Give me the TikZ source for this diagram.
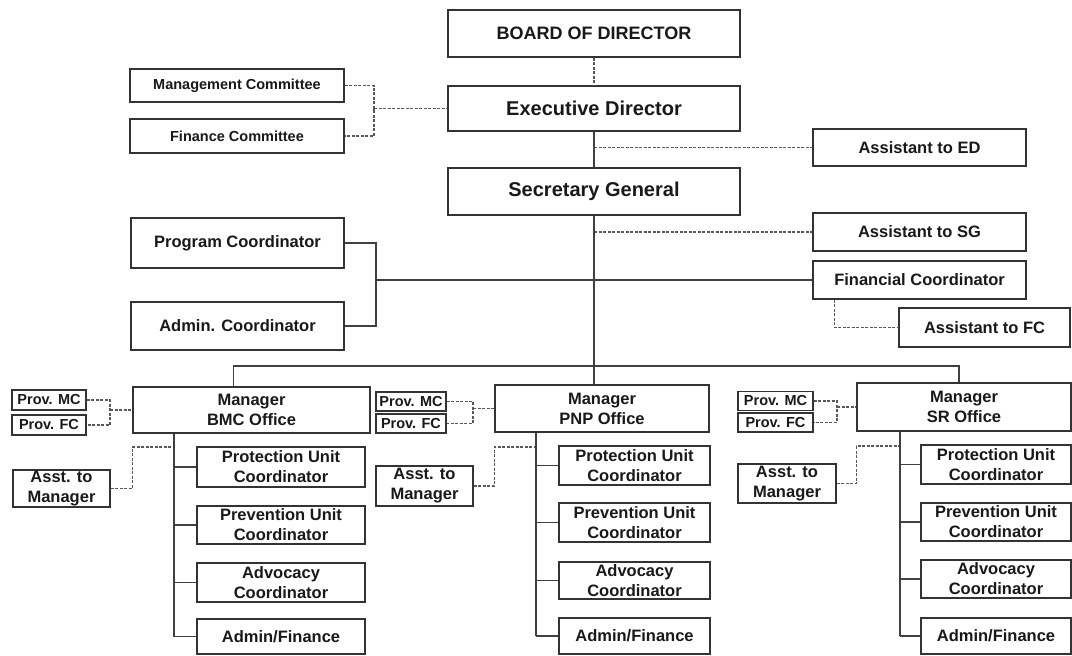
\documentclass[tikz,border=0pt]{standalone}
\usepackage{fontspec}
\setmainfont{Liberation Sans}

\tikzset{
  unit/.style={draw=black!80, line width=1.5pt, inner sep=0pt, align=center,
    text=black!90, font=\bfseries\fontsize{16.5}{20}\selectfont},
  wh/.style 2 args={minimum width=#1pt, minimum height=#2pt},
  small/.style={font=\bfseries\fontsize{14.5}{16}\selectfont},
  link/.style={draw=black!75, line width=1.4pt},
  staff/.style={draw=black!65, line width=1.1pt, dash pattern=on 3pt off 1.5pt}
}

\begin{document}
\begin{tikzpicture}[x=1pt, y=-1pt]
        \path[fill=white, use as bounding box] (0,0) rectangle (1072,656);

        % head office
        \node[unit, wh={292}{47}, font=\bfseries\fontsize{18}{22}\selectfont] (bod) at (594,33.5) {BOARD OF DIRECTOR};
        \node[unit, wh={292}{45}, font=\bfseries\fontsize{20}{24}\selectfont] (ed) at (594,108.5) {Executive Director};
        \node[unit, wh={292}{47}, font=\bfseries\fontsize{20}{24}\selectfont] (sg) at (594,191.5) {Secretary General};
        \node[unit, small, wh={214}{33}] (mc) at (237,85.5) {Management Committee};
        \node[unit, small, wh={214}{34}] (fc) at (237,136) {Finance Committee};
        \node[unit, wh={213}{37}] (aed) at (919.5,147.5) {Assistant to ED};
        \node[unit, wh={213}{38}] (asg) at (919.5,232) {Assistant to SG};
        \node[unit, wh={213}{38}] (fco) at (919.5,280) {Financial Coordinator};
        \node[unit, wh={171}{39}] (afc) at (984.5,327.5) {Assistant to FC};
        \node[unit, wh={213}{50}] (pc) at (237.5,243) {Program Coordinator};
        \node[unit, wh={213}{48}] (ac) at (237.5,326) {Admin. Coordinator};

        % BMC office
        \node[unit, wh={237}{46}] (bmc) at (251.5,410) {Manager\\BMC Office};
        \node[unit, small, wh={74}{20}] (pmc1) at (49,400) {Prov. MC};
        \node[unit, small, wh={74}{20}] (pfc1) at (49,425) {Prov. FC};
        \node[unit, wh={97}{37}] (am1) at (61.5,488.5) {Asst. to\\Manager};
        \node[unit, wh={168}{40}] (puc1) at (281,467) {Protection Unit\\Coordinator};
        \node[unit, wh={168}{38}] (pre1) at (281,525) {Prevention Unit\\Coordinator};
        \node[unit, wh={168}{39}] (adv1) at (281,582.5) {Advocacy\\Coordinator};
        \node[unit, wh={168}{35}] (adm1) at (281,636.5) {Admin/Finance};

        % PNP office
        \node[unit, wh={214}{47}] (pnp) at (602,408.5) {Manager\\PNP Office};
        \node[unit, small, wh={70}{19}] (pmc2) at (411,401.5) {Prov. MC};
        \node[unit, small, wh={70}{19}] (pfc2) at (411,423.5) {Prov. FC};
        \node[unit, wh={97}{40}] (am2) at (424.5,486) {Asst. to\\Manager};
        \node[unit, wh={151}{39}] (puc2) at (634.5,465.5) {Protection Unit\\Coordinator};
        \node[unit, wh={151}{39}] (pre2) at (634.5,522.5) {Prevention Unit\\Coordinator};
        \node[unit, wh={151}{37}] (adv2) at (634.5,580.5) {Advocacy\\Coordinator};
        \node[unit, wh={151}{36}] (adm2) at (634.5,636) {Admin/Finance};

        % SR office
        \node[unit, wh={214}{48}] (sr) at (964,407) {Manager\\SR Office};
        \node[unit, small, wh={75}{19}] (pmc3) at (775.5,401) {Prov. MC};
        \node[unit, small, wh={75}{19}] (pfc3) at (775.5,422.5) {Prov. FC};
        \node[unit, wh={98}{39}] (am3) at (787,483.5) {Asst. to\\Manager};
        \node[unit, wh={150}{39}] (puc3) at (996,464.5) {Protection Unit\\Coordinator};
        \node[unit, wh={150}{38}] (pre3) at (996,522) {Prevention Unit\\Coordinator};
        \node[unit, wh={150}{38}] (adv3) at (996,579) {Advocacy\\Coordinator};
        \node[unit, wh={150}{36}] (adm3) at (996,636) {Admin/Finance};

        % head office lines
        \draw[staff] (bod) -- (ed);
        \draw[link] (ed) -- (sg);
        \coordinate (cj) at (374,108.5);
        \draw[staff] (mc.east) -| (cj) |- (fc.east);
        \draw[staff] (cj) -- (ed.west);
        \draw[staff] (ed.south |- aed.west) -- (aed.west);
        \draw[staff] (sg.south |- asg.west) -- (asg.west);
        \coordinate (pj) at (376,280);
        \draw[link] (pc.east) -| (pj) |- (ac.east);
        \draw[link] (pj) -- (fco.west);
        \draw[staff] ([xshift=22pt]fco.south west) |- (afc.west);
        \coordinate (br) at (594,366);
        \draw[link] (sg.south) -- (br |- pnp.north);
        \draw[link] ([xshift=-18pt]bmc.north) |- (br) -| ([xshift=-5pt]sr.north);

        % BMC lines
        \coordinate (pj1) at (110,410);
        \draw[staff] (pmc1.east) -| (pj1) |- (pfc1.east);
        \draw[staff] (pj1) -- (bmc.west);
        \coordinate (t1) at (174,447);
        \draw[staff] (am1.east) -| (bmc.west |- t1) -- (t1);
        \draw[link] (bmc.south -| t1) -- (t1 |- adm1.west);
        \draw[link] (t1 |- puc1.west) -- (puc1.west);
        \draw[link] (t1 |- pre1.west) -- (pre1.west);
        \draw[link] (t1 |- adv1.west) -- (adv1.west);
        \draw[link] (t1 |- adm1.west) -- (adm1.west);

        % PNP lines
        \coordinate (pj2) at (473,408.5);
        \draw[staff] (pmc2.east) -| (pj2) |- (pfc2.east);
        \draw[staff] (pj2) -- (pnp.west);
        \coordinate (t2) at (536,447);
        \draw[staff] (am2.east) -| (pnp.west |- t2) -- (t2);
        \draw[link] (pnp.south -| t2) -- (t2 |- adm2.west);
        \draw[link] (t2 |- puc2.west) -- (puc2.west);
        \draw[link] (t2 |- pre2.west) -- (pre2.west);
        \draw[link] (t2 |- adv2.west) -- (adv2.west);
        \draw[link] (t2 |- adm2.west) -- (adm2.west);

        % SR lines
        \coordinate (pj3) at (837,407);
        \draw[staff] (pmc3.east) -| (pj3) |- (pfc3.east);
        \draw[staff] (pj3) -- (sr.west);
        \coordinate (t3) at (900,446);
        \draw[staff] (am3.east) -| (sr.west |- t3) -- (t3);
        \draw[link] (sr.south -| t3) -- (t3 |- adm3.west);
        \draw[link] (t3 |- puc3.west) -- (puc3.west);
        \draw[link] (t3 |- pre3.west) -- (pre3.west);
        \draw[link] (t3 |- adv3.west) -- (adv3.west);
        \draw[link] (t3 |- adm3.west) -- (adm3.west);
    \end{tikzpicture}
\end{document}
